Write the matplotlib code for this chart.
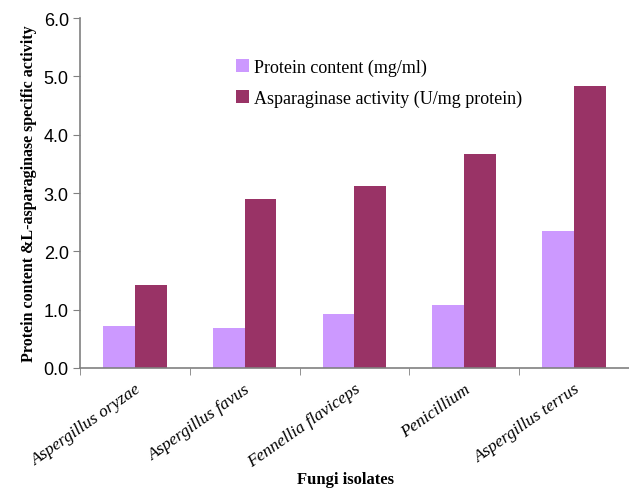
import numpy as np
import matplotlib
matplotlib.use("Agg")
import matplotlib.pyplot as plt

isolates = ['Aspergillus oryzae', 'Aspergillus favus', 'Fennellia flaviceps',
            'Penicillium', 'Aspergillus terrus']
protein = [0.72, 0.68, 0.92, 1.08, 2.35]
activity = [1.42, 2.90, 3.12, 3.67, 4.83]
yticks = [0.0, 1.0, 2.0, 3.0, 4.0, 5.0, 6.0]

fig = plt.figure(figsize=(6.29, 4.89), dpi=100)
ax = fig.add_axes([0.127, 0.2454, 0.873, 0.7156])

x = np.arange(len(isolates))
w = 0.29
ax.bar(x - w/2, protein, w, color='#CC99FF', label='Protein content (mg/ml)')
ax.bar(x + w/2, activity, w, color='#993366', label='Asparaginase activity (U/mg protein)')

ax.set_xlim(-0.5, len(isolates) - 0.5)
ax.set_ylim(0, 6)
ax.set_yticks(yticks)
ax.set_yticklabels(['%.1f' % v for v in yticks], family='Liberation Sans', fontsize=13)

# category labels centred, tick marks on the boundaries
ax.set_xticks(x)
ax.set_xticklabels(isolates, family='Liberation Serif', style='italic', fontsize=12.5,
                   rotation=35, ha='right', rotation_mode='anchor')
ax.set_xticks(np.arange(len(isolates) + 1) - 0.5, minor=True)
ax.tick_params(axis='x', which='major', length=0, pad=9)
ax.tick_params(axis='x', which='minor', length=5, color='#808080', direction='out')
ax.tick_params(axis='y', length=5, color='#808080', direction='out', pad=3)

for s in ['top', 'right']:
    ax.spines[s].set_visible(False)
for s in ['left', 'bottom']:
    ax.spines[s].set_color('#808080')
    ax.spines[s].set_linewidth(1.2)

fig.text(0.549, 0.018, 'Fungi isolates', family='Liberation Serif', weight='bold',
         fontsize=12, ha='center', va='center')
ax.set_ylabel('Protein content &L-asparaginase specific activity', family='Liberation Serif',
              weight='bold', fontsize=11.5, labelpad=5)

leg = ax.legend(loc='upper left', bbox_to_anchor=(0.255, 0.93), frameon=False,
                prop={'family': 'Liberation Serif', 'size': 13},
                handlelength=0.7, handleheight=0.7, handletextpad=0.3, labelspacing=0.75)

fig.savefig('out.png', dpi=100)
